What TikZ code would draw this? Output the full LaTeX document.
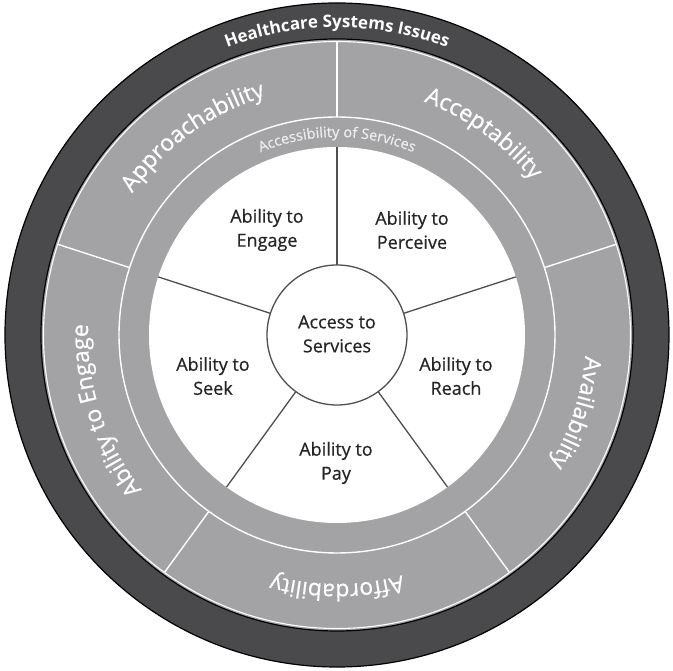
\documentclass[tikz,border=0pt]{standalone}
\usepackage{fontspec}
\setmainfont{Open Sans}
\newfontfamily\semifont[FakeBold=0.6]{Open Sans}
\usetikzlibrary{decorations.text}
\definecolor{ringdark}{HTML}{4A4A4C}
\definecolor{ringgray}{HTML}{A3A3A5}
\definecolor{spokecol}{HTML}{4F4F4F}
\definecolor{labeltext}{HTML}{262626}
\definecolor{acctext}{HTML}{EEEEEE}
\begin{document}
\begin{tikzpicture}[x=1pt,y=1pt,
  inlabel/.style={align=center, text=labeltext, font=\semifont\fontsize{18}{24}\selectfont},
  divider/.style={white, line width=1.4pt},
  spokeline/.style={spokecol, line width=1.3pt},
  ringtext/.style={decorate, decoration={text along path, text align=center, text color=white, text={#1}}}
]
\useasboundingbox (-337,-336) rectangle (336,335);
\fill[white] (-337,-336) rectangle (336,335);
% dark outer ring
\filldraw[fill=ringdark, draw=black, line width=1.2pt] (0,0) circle[radius=332];
\fill[ringgray] (0,0) circle[radius=296];
\draw[black, line width=1.2pt] (0,0) circle[radius=296];
\draw[divider, line width=1.1pt] (0,0) circle[radius=293.5];
% ring between segments and accessibility band
\draw[divider] (0,0) circle[radius=218];
\foreach \a in {18,90,162,234,306}
  \draw[divider] (\a:218) -- (\a:293);
% white disc
\fill[white] (0,0) circle[radius=188];
% spokes
\coordinate (hub) at (0,0);
\foreach \a in {18,90,162,234,306}{
  \coordinate (in\a) at (\a:70);
  \coordinate (out\a) at (\a:188);
  \draw[spokeline] (in\a) -- (out\a);
}
\node[circle, draw=spokecol, line width=1.3pt, fill=white, minimum size=140pt, inner sep=0pt] (center) at (hub) {};
\node[inlabel] (access) at (0,1) {Access to\\Services};
\node[inlabel] (engage) at (-70,105) {Ability to\\Engage};
\node[inlabel] (perceive) at (75,105) {Ability to\\Perceive};
\node[inlabel] (seek) at (-124,-41) {Ability to\\Seek};
\node[inlabel] (reach) at (119,-41) {Ability to\\Reach};
\node[inlabel] (pay) at (-1,-128) {Ability to\\Pay};
% curved texts
\path[ringtext={|\fontsize{17}{17}\selectfont\bfseries|Healthcare Systems Issues}]
  (140:307.5) arc[start angle=140, end angle=40, radius=307.5];
\path[decorate, decoration={text along path, text align=center, text color=acctext,
  text={|\semifont\fontsize{14.5}{15}\selectfont|Accessibility of Services}}]
  (140:198) arc[start angle=140, end angle=40, radius=198];
\path[ringtext={|\semifont\fontsize{23}{23}\selectfont|Approachability}]
  (162:249) arc[start angle=162, end angle=90, radius=249];
\path[ringtext={|\semifont\fontsize{23}{23}\selectfont|Acceptability}]
  (90:249) arc[start angle=90, end angle=18, radius=249];
\path[ringtext={|\semifont\fontsize{23}{23}\selectfont|Availability}]
  (18:249) arc[start angle=18, end angle=-54, radius=249];
\path[ringtext={|\semifont\fontsize{23}{23}\selectfont|Affordability}]
  (-54:249) arc[start angle=-54, end angle=-126, radius=249];
\path[ringtext={|\semifont\fontsize{23}{23}\selectfont|Ability to Engage}]
  (234:249) arc[start angle=234, end angle=162, radius=249];
\end{tikzpicture}
\end{document}
